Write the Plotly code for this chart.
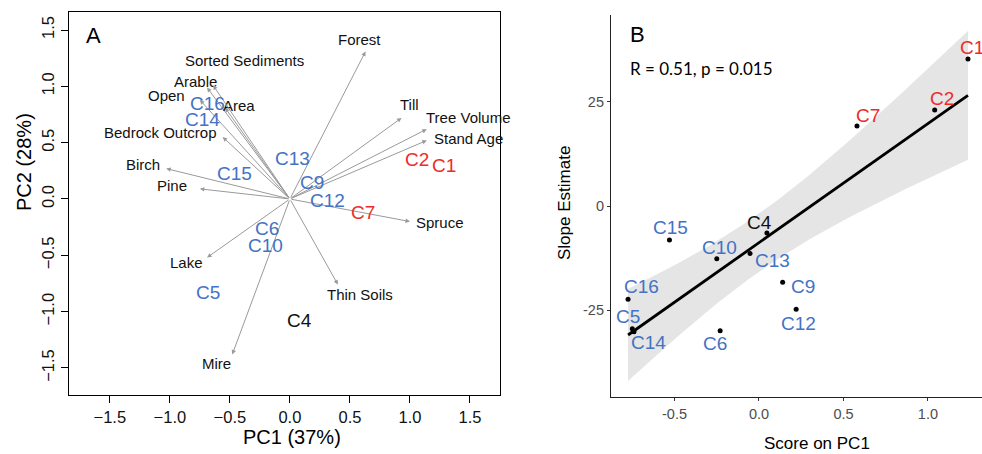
import numpy as np
import plotly.graph_objects as go

W, H = 982, 454

# ---------------- Panel A data (PCA biplot) ----------------
var_names = ["Forest", "Till", "Tree Volume", "Stand Age", "Spruce", "Thin Soils", "Mire",
             "Lake", "Pine", "Birch", "Bedrock Outcrop", "Open", "Arable", "Area", "Sorted Sediments"]
var_pc1 = [0.63, 0.93, 1.14, 1.14, 1.00, 0.40, -0.48, -0.69, -0.75, -1.03, -0.56, -0.75, -0.69, -0.54, -0.64]
var_pc2 = [1.31, 0.72, 0.62, 0.52, -0.20, -0.76, -1.38, -0.52, 0.09, 0.27, 0.55, 0.88, 0.99, 0.81, 1.01]
var_label_pc1 = [0.58, 1.00, 1.49, 1.49, 1.25, 0.58, -0.61, -0.86, -0.98, -1.22, -1.08, -1.03, -0.79, -0.42, -0.375]
var_label_pc2 = [1.42, 0.84, 0.72, 0.54, -0.21, -0.85, -1.46, -0.56, 0.12, 0.31, 0.59, 0.92, 1.04, 0.83, 1.23]

site_names = ["C1", "C2", "C4", "C5", "C6", "C7", "C9", "C10", "C12", "C13", "C14", "C15", "C16"]
site_group = ["red", "red", "black", "blue", "blue", "red", "blue", "blue", "blue", "blue", "blue", "blue", "blue"]
site_pca1 = [1.28, 1.06, 0.08, -0.68, -0.19, 0.61, 0.18, -0.20, 0.31, 0.02, -0.73, -0.46, -0.69]
site_pca2 = [0.30, 0.35, -1.08, -0.83, -0.26, -0.12, 0.15, -0.41, -0.01, 0.36, 0.71, 0.23, 0.85]

# ---------------- Panel B data (slope vs PC1 score) ----------------
score_pc1 = [1.237, 1.04, 0.047, -0.75, -0.23, 0.58, 0.14, -0.25, 0.22, -0.053, -0.74, -0.53, -0.775]
slope_est = [35.3, 23.1, -6.5, -29.5, -30.0, 19.2, -18.3, -12.7, -24.8, -11.4, -30.2, -8.2, -22.4]
# label pixel offsets (dx right, dy down) for panel B
label_dx = [4, 7, -7, -4, -5, 11, 20, 3, 2, 22, 15, 1, 13]
label_dy = [-12, -11, -11, -12, 13, -11, 4, -11, 14, 7, 11, -13, -13]

colors = {"red": "#EE2B2B", "black": "#111111", "blue": "#4472C4"}
FONT = "Liberation Sans, Arial, sans-serif"

fig = go.Figure()

# ---- Panel A ----
xa_dom = [69 / W, 500 / W]
ya_dom = [1 - 395 / H, 1 - 12 / H]

annotations = []
for name, x, y, lx, ly in zip(var_names, var_pc1, var_pc2, var_label_pc1, var_label_pc2):
    annotations.append(dict(x=x, y=y, ax=0, ay=0, xref="x", yref="y", axref="x", ayref="y",
                            showarrow=True, arrowhead=2, arrowsize=0.9, arrowwidth=1,
                            arrowcolor="#9a9a9a", text=""))
    annotations.append(dict(x=lx, y=ly, xref="x", yref="y", text=name, showarrow=False,
                            xanchor="center", yanchor="middle",
                            font=dict(family=FONT, size=15, color="#111111")))

for name, g, x, y in zip(site_names, site_group, site_pca1, site_pca2):
    annotations.append(dict(x=x, y=y, xref="x", yref="y", text=name, showarrow=False,
                            xanchor="center", yanchor="middle",
                            font=dict(family=FONT, size=19, color=colors[g])))

# ---- Panel B ----
xb = np.array(score_pc1)
yb = np.array(slope_est)
n = len(xb)
slope, intercept = np.polyfit(xb, yb, 1)
xs = np.linspace(xb.min(), xb.max(), 80)
fit = intercept + slope * xs
resid = yb - (intercept + slope * xb)
s = np.sqrt(np.sum(resid ** 2) / (n - 2))
sxx = np.sum((xb - xb.mean()) ** 2)
tcrit = 2.201
half = tcrit * s * np.sqrt(1 / n + (xs - xb.mean()) ** 2 / sxx)

fig.add_trace(go.Scatter(x=np.concatenate([xs, xs[::-1]]),
                         y=np.concatenate([fit + half, (fit - half)[::-1]]),
                         fill="toself", fillcolor="#e5e5e5", line=dict(width=0),
                         mode="lines", hoverinfo="skip", showlegend=False,
                         xaxis="x2", yaxis="y2"))
fig.add_trace(go.Scatter(x=xs, y=fit, mode="lines", line=dict(color="black", width=2.8),
                         showlegend=False, xaxis="x2", yaxis="y2"))
fig.add_trace(go.Scatter(x=score_pc1, y=slope_est, mode="markers",
                         marker=dict(color="black", size=5), showlegend=False,
                         xaxis="x2", yaxis="y2"))

for name, g, x, y, dx, dy in zip(site_names, site_group, score_pc1, slope_est, label_dx, label_dy):
    annotations.append(dict(x=x, y=y, xref="x2", yref="y2", text=name, showarrow=False,
                            xanchor="center", yanchor="middle", xshift=dx, yshift=-dy,
                            font=dict(family=FONT, size=19, color=colors[g])))

# Titles / panel letters
def paper_text(px, py, text, size, angle=0, xanchor="center", family=FONT):
    return dict(x=px / W, y=1 - py / H, xref="paper", yref="paper", text=text, showarrow=False,
                xanchor=xanchor, yanchor="middle", textangle=angle,
                font=dict(family=family, size=size, color="black"))

annotations += [
    paper_text(93, 36, "A", 22),
    paper_text(637, 34, "B", 22),
    paper_text(628, 69, "R = 0.51, p = 0.015", 17, xanchor="left", family="Lato, sans-serif"),
    paper_text(292, 437, "PC1 (37%)", 20),
    paper_text(24, 162, "PC2 (28%)", 20, angle=-90),
    paper_text(817, 443, "Score on PC1", 17),
    paper_text(564, 203, "Slope Estimate", 17, angle=-90),
]

axis_a_common = dict(showgrid=False, zeroline=False, showline=True, mirror=True,
                     linecolor="black", linewidth=1.3, ticks="outside", ticklen=7,
                     tickcolor="black", tickwidth=1,
                     tickfont=dict(family=FONT, size=16.5, color="#111111"))
a_ticks = [-1.5, -1.0, -0.5, 0, 0.5, 1.0, 1.5]
a_ticktext = ["−1.5", "−1.0", "−0.5", "0.0", "0.5", "1.0", "1.5"]

fig.update_layout(
    width=W, height=H, margin=dict(l=0, r=0, t=0, b=0),
    paper_bgcolor="white", plot_bgcolor="white",
    xaxis=dict(domain=xa_dom, range=[-1.84, 1.75], tickvals=a_ticks, ticktext=a_ticktext,
               anchor="y", **axis_a_common),
    yaxis=dict(domain=ya_dom, range=[-1.74, 1.66], tickvals=a_ticks, ticktext=a_ticktext,
               tickangle=-90, anchor="x", **axis_a_common),
    xaxis2=dict(domain=[611 / W, 1.0], range=[-0.876, 1.32], anchor="y2",
                tickvals=[-0.5, 0, 0.5, 1.0], ticktext=["-0.5", "0.0", "0.5", "1.0"],
                showgrid=False, zeroline=False, showline=True, linecolor="#222222", linewidth=1.2,
                ticks="outside", ticklen=3, tickcolor="#333333",
                tickfont=dict(family=FONT, size=14.5, color="#4d4d4d")),
    yaxis2=dict(domain=[1 - 397 / H, 1 - 15 / H], range=[-45.9, 45.9], anchor="x2",
                tickvals=[-25, 0, 25], ticktext=["-25", "0", "25"],
                showgrid=False, zeroline=False, showline=True, linecolor="#222222", linewidth=1.2,
                ticks="outside", ticklen=3, tickcolor="#333333",
                tickfont=dict(family=FONT, size=14.5, color="#4d4d4d")),
    annotations=annotations,
)

fig.write_html("out.html")
